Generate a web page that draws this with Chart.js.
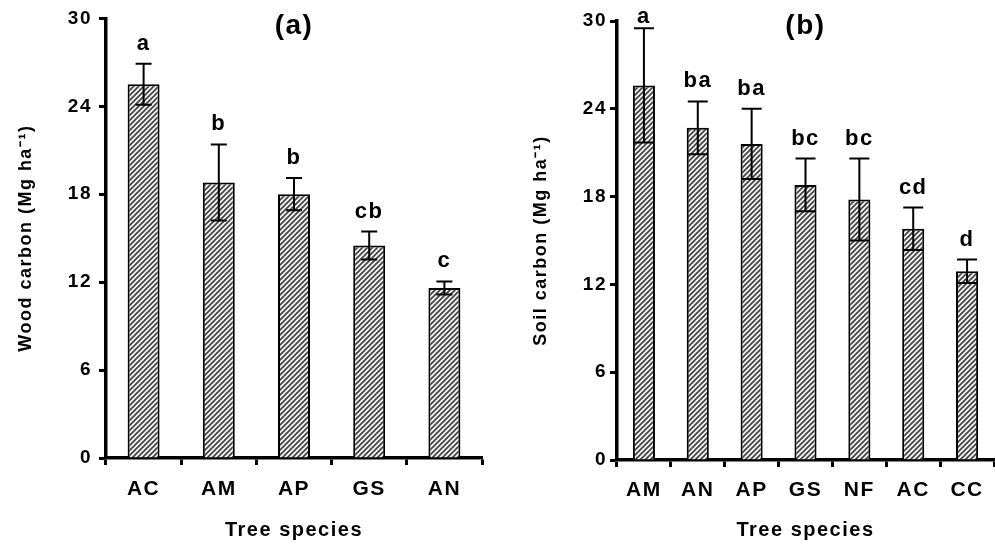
<!DOCTYPE html>
<html>
<head>
<meta charset="utf-8">
<script src="https://cdn.jsdelivr.net/npm/chart.js@4/dist/chart.umd.min.js"></script>
<style>
  html, body { margin: 0; padding: 0; background: #fff; }
  #wrap { position: relative; width: 995px; height: 545px; }
  #chartA { position: absolute; left: 0; top: 0; }
  #chartB { position: absolute; left: 495px; top: 0; }
</style>
</head>
<body>
<div id="wrap">
  <canvas id="chartA" width="495" height="545"></canvas>
  <canvas id="chartB" width="500" height="545"></canvas>
</div>
<script>
// panel (a) - wood carbon
const woodSpecies = ['AC', 'AM', 'AP', 'GS', 'AN'];
const woodCarbon = [25.5, 18.8, 18.0, 14.5, 11.6];
const woodErr = [1.4, 2.6, 1.1, 0.95, 0.45];
const woodLetters = ['a', 'b', 'b', 'cb', 'c'];

// panel (b) - soil carbon
const soilSpecies = ['AM', 'AN', 'AP', 'GS', 'NF', 'AC', 'CC'];
const soilCarbon = [25.6, 22.7, 21.6, 18.8, 17.8, 15.8, 12.9];
const soilErr = [3.9, 1.8, 2.4, 1.8, 2.8, 1.45, 0.8];
const soilLetters = ['a', 'ba', 'ba', 'bc', 'bc', 'cd', 'd'];

const yMin = 0, yMax = 30, yStep = 6;

const FONT = '"Liberation Sans", Arial, sans-serif';

// diagonal hatch fill like the original
function hatch() {
  const c = document.createElement('canvas');
  c.width = 5; c.height = 5;
  const g = c.getContext('2d');
  g.fillStyle = '#f2f2f2';
  g.fillRect(0, 0, 5, 5);
  g.strokeStyle = '#404040';
  g.lineWidth = 1.6;
  g.beginPath();
  g.moveTo(-1, 6); g.lineTo(6, -1);
  g.moveTo(-1, 1); g.lineTo(1, -1);
  g.moveTo(4, 6); g.lineTo(6, 4);
  g.stroke();
  return g.createPattern(c, 'repeat');
}

// the original lettering is spaced out a bit
const spacing = {
  id: 'spacing',
  beforeDraw(chart) { chart.ctx.letterSpacing = '1.5px'; }
};

const errorBars = {
  id: 'errorBars',
  afterDatasetsDraw(chart, args, opts) {
    const ctx = chart.ctx;
    const y = chart.scales.y;
    const area = chart.chartArea;
    const vals = chart.data.datasets[0].data;
    ctx.save();
    ctx.strokeStyle = '#000';
    ctx.fillStyle = '#000';
    ctx.lineWidth = 2;
    ctx.textAlign = 'center';
    ctx.textBaseline = 'alphabetic';
    ctx.font = 'bold 22px ' + FONT;
    chart.getDatasetMeta(0).data.forEach((bar, i) => {
      const top = y.getPixelForValue(vals[i] + opts.err[i]);
      const bot = y.getPixelForValue(vals[i] - opts.err[i]);
      ctx.beginPath();
      ctx.moveTo(bar.x, bot); ctx.lineTo(bar.x, top);
      ctx.moveTo(bar.x - opts.cap, top); ctx.lineTo(bar.x + opts.cap, top);
      ctx.moveTo(bar.x - opts.cap, bot); ctx.lineTo(bar.x + opts.cap, bot);
      ctx.stroke();
      ctx.fillText(opts.letters[i], bar.x, Math.max(top - 14, area.top + 2));
    });
    ctx.font = 'bold 28px ' + FONT;
    ctx.textBaseline = 'middle';
    ctx.fillText(opts.panel, (area.left + area.right) / 2, 26);
    ctx.restore();
  }
};

function makeChart(id, cfg) {
  return new Chart(document.getElementById(id), {
    type: 'bar',
    data: {
      labels: cfg.labels,
      datasets: [{
        data: cfg.values,
        backgroundColor: hatch(),
        borderColor: '#000',
        borderWidth: 2,
        borderSkipped: 'bottom',
        categoryPercentage: 1,
        barPercentage: cfg.barPct
      }]
    },
    options: {
      responsive: false,
      animation: false,
      layout: { padding: { top: cfg.padTop, right: cfg.padRight, left: 0, bottom: 0 } },
      plugins: {
        legend: { display: false },
        tooltip: { enabled: false },
        errorBars: { err: cfg.err, letters: cfg.letters, panel: cfg.panel, cap: cfg.cap }
      },
      scales: {
        x: {
          afterFit: s => { s.height = cfg.xHeight; },
          grid: { drawOnChartArea: false, color: '#000', tickLength: 7, tickWidth: 3, offset: true },
          border: { color: '#000', width: 3.5 },
          ticks: { color: '#000', padding: cfg.xPad, font: { family: FONT, size: 21, weight: 'bold' } },
          title: {
            display: true, text: 'Tree species', color: '#000',
            font: { family: FONT, size: 20, weight: 'bold' },
            padding: { top: 0, bottom: 3 }
          }
        },
        y: {
          min: yMin, max: yMax,
          afterFit: s => { s.width = cfg.yWidth; },
          grid: { drawOnChartArea: false, color: '#000', tickLength: 7, tickWidth: 3 },
          border: { color: '#000', width: 3.5 },
          ticks: { stepSize: yStep, color: '#000', padding: cfg.yPad, font: { family: FONT, size: 19, weight: 'bold' } },
          title: {
            display: true, text: cfg.yTitle, color: '#000',
            font: { family: FONT, size: 18, weight: 'bold' },
            padding: { top: cfg.yTitlePad, bottom: 0 }
          }
        }
      }
    },
    plugins: [spacing, errorBars]
  });
}

makeChart('chartA', {
  labels: woodSpecies, values: woodCarbon, err: woodErr, letters: woodLetters,
  panel: '(a)', yTitle: 'Wood carbon (Mg ha\u207B\u00B9)',
  barPct: 0.425, cap: 8,
  padTop: 16, padRight: 13, xHeight: 87, yWidth: 106,
  xPad: 12, yPad: 7, yTitlePad: 15
});

makeChart('chartB', {
  labels: soilSpecies, values: soilCarbon, err: soilErr, letters: soilLetters,
  panel: '(b)', yTitle: 'Soil carbon (Mg ha\u207B\u00B9)',
  barPct: 0.41, cap: 10,
  padTop: 21, padRight: 1, xHeight: 85, yWidth: 122,
  xPad: 11, yPad: 3, yTitlePad: 35
});
</script>
</body>
</html>
